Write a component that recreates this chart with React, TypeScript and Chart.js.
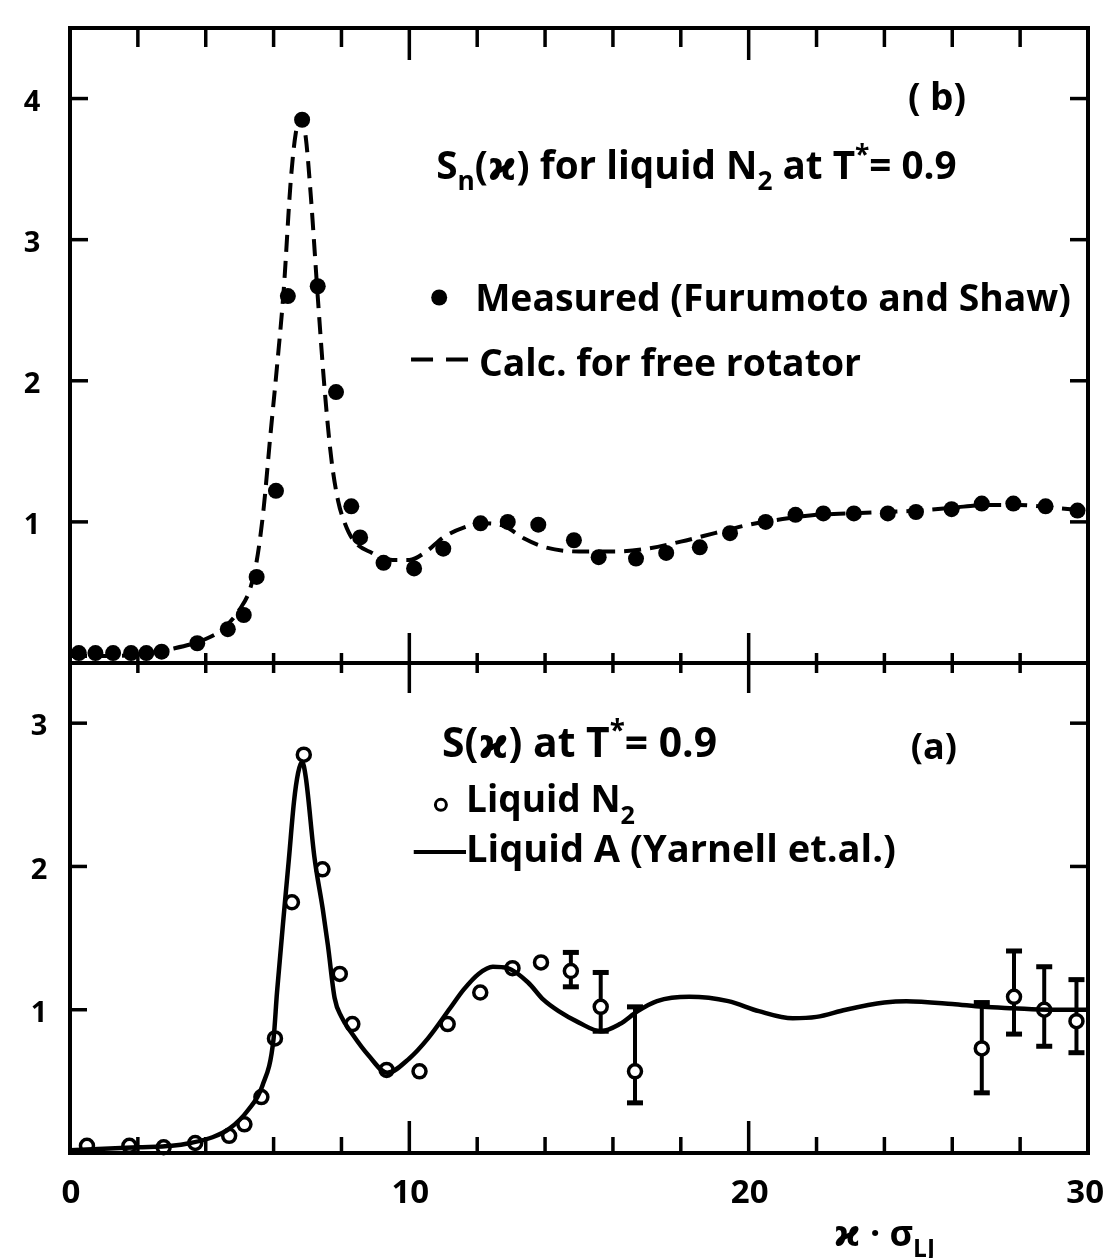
import React, { useEffect, useRef } from "react";
import { Chart, registerables } from "chart.js";

Chart.register(...registerables);

// ---------- DATA ----------
// Panel (b): S_n(x) for liquid N2, calc. for free rotator (dashed curve)
const calcX = [0, 1, 2, 3, 4, 4.5, 5, 5.3, 5.5, 5.7, 5.9, 6.1, 6.3, 6.5, 6.65, 6.82, 6.95, 7.1, 7.3, 7.5, 7.7, 7.9, 8.1, 8.35, 8.9, 9.5, 10.0, 10.5, 11.0, 11.6, 12.2, 12.8, 13.4, 14.0, 15.0, 16.0, 17.0, 18.0, 19.0, 20.0, 21.0, 22.0, 23.0, 24.0, 25.0, 26.0, 27.0, 28.0, 29.0, 30.0];
const calcY = [0.05, 0.05, 0.06, 0.1, 0.17, 0.24, 0.38, 0.52, 0.72, 1.08, 1.6, 2.1, 2.65, 3.4, 3.75, 3.87, 3.72, 3.3, 2.6, 1.95, 1.45, 1.15, 0.99, 0.87, 0.78, 0.73, 0.73, 0.79, 0.89, 0.96, 0.99, 0.97, 0.88, 0.82, 0.79, 0.79, 0.81, 0.86, 0.92, 0.98, 1.02, 1.05, 1.06, 1.07, 1.08, 1.1, 1.12, 1.12, 1.1, 1.08];

// Panel (b): measured (Furumoto and Shaw)
const measX = [0.26, 0.75, 1.27, 1.8, 2.25, 2.7, 3.75, 4.65, 5.12, 5.5, 6.07, 6.42, 6.84, 7.3, 7.84, 8.29, 8.55, 9.24, 10.14, 11.0, 12.1, 12.9, 13.8, 14.85, 15.58, 16.68, 17.57, 18.56, 19.45, 20.5, 21.38, 22.2, 23.1, 24.1, 24.93, 25.98, 26.87, 27.8, 28.75, 29.69];
const measY = [0.07, 0.07, 0.07, 0.07, 0.07, 0.08, 0.14, 0.24, 0.34, 0.61, 1.22, 2.6, 3.85, 2.67, 1.92, 1.11, 0.89, 0.71, 0.67, 0.81, 0.99, 1.0, 0.98, 0.87, 0.75, 0.74, 0.78, 0.82, 0.92, 1.0, 1.05, 1.06, 1.06, 1.06, 1.07, 1.09, 1.13, 1.13, 1.11, 1.08];

// Panel (a): Liquid A (Yarnell et al.) solid curve
const argonX = [0, 1, 2, 3, 3.55, 4.2, 4.7, 5.25, 5.67, 6.0, 6.1, 6.33, 6.45, 6.6, 6.72, 6.84, 6.95, 7.2, 7.45, 7.6, 7.8, 8.0, 8.32, 8.8, 9.35, 10.0, 10.55, 11.2, 11.6, 12.04, 12.46, 12.9, 13.5, 13.95, 14.4, 15.0, 15.64, 16.2, 16.73, 17.3, 18.25, 19.4, 20.3, 21.3, 22.0, 22.86, 24.0, 24.65, 26.0, 26.9, 27.8, 28.85, 30.0];
const argonY = [0.02, 0.03, 0.04, 0.05, 0.07, 0.11, 0.17, 0.3, 0.47, 0.8, 1.12, 1.74, 2.05, 2.45, 2.65, 2.73, 2.62, 2.07, 1.7, 1.45, 1.08, 0.95, 0.83, 0.68, 0.56, 0.66, 0.8, 1.01, 1.14, 1.25, 1.3, 1.29, 1.19, 1.07, 0.99, 0.91, 0.85, 0.9, 0.99, 1.06, 1.09, 1.06, 0.99, 0.94, 0.95, 1.0, 1.05, 1.06, 1.04, 1.02, 1.01, 1.0, 1.0];

// Panel (a): Liquid N2 (open circles) with error bars where present
const n2X = [0.5, 1.75, 2.76, 3.69, 4.69, 5.14, 5.64, 6.04, 6.54, 6.89, 7.44, 7.95, 8.32, 9.33, 10.3, 11.13, 12.09, 13.04, 13.88, 14.76, 15.64, 16.65, 26.87, 27.82, 28.71, 29.66];
const n2Y = [0.05, 0.05, 0.04, 0.07, 0.12, 0.2, 0.39, 0.8, 1.75, 2.78, 1.98, 1.25, 0.9, 0.58, 0.57, 0.9, 1.12, 1.29, 1.33, 1.27, 1.02, 0.57, 0.73, 1.09, 1.0, 0.92];
const n2ErrLow: (number | null)[] = [null, null, null, null, null, null, null, null, null, null, null, null, null, null, null, null, null, null, null, 1.16, 0.85, 0.35, 0.42, 0.83, 0.745, 0.7];
const n2ErrHigh: (number | null)[] = [null, null, null, null, null, null, null, null, null, null, null, null, null, null, null, null, null, null, null, 1.4, 1.26, 1.02, 1.05, 1.41, 1.3, 1.21];

// Axis ticks and labels
const xMin = 0;
const xMax = 30;
const xTickValues = [2, 4, 6, 8, 10, 12, 14, 16, 18, 20, 22, 24, 26, 28];
const xMajorTicks = [10, 20];
const xLabelValues = [0, 10, 20, 30];
const xLabels = ["0", "10", "20", "30"];
const topYMax = 4.5;
const topYTicks = [1, 2, 3, 4];
const bottomYMax = 3.42;
const bottomYTicks = [1, 2, 3];

const FONT = '"Open Sans", "DejaVu Sans", sans-serif';

type Seg = { t: string; sub?: boolean; sup?: boolean };

function segSize(s: Seg, size: number) {
  return s.sub || s.sup ? size * 0.68 : size;
}

function richWidth(ctx: CanvasRenderingContext2D, segs: Seg[], size: number) {
  let w = 0;
  for (const s of segs) {
    ctx.font = `bold ${segSize(s, size)}px ${FONT}`;
    w += ctx.measureText(s.t).width;
  }
  return w;
}

function drawRich(ctx: CanvasRenderingContext2D, segs: Seg[], x: number, yCenter: number, size: number, align: "left" | "center" = "left") {
  const total = richWidth(ctx, segs, size);
  let cx = align === "center" ? x - total / 2 : x;
  const base = yCenter + size * 0.36;
  ctx.textAlign = "left";
  ctx.textBaseline = "alphabetic";
  for (const s of segs) {
    const sz = segSize(s, size);
    ctx.font = `bold ${sz}px ${FONT}`;
    const dy = s.sub ? size * 0.3 : s.sup ? -size * 0.42 : 0;
    ctx.fillText(s.t, cx, base + dy);
    cx += ctx.measureText(s.t).width;
  }
}

function fitRich(ctx: CanvasRenderingContext2D, segs: Seg[], x0: number, x1: number, yCenter: number) {
  const w100 = richWidth(ctx, segs, 100);
  const size = (100 * (x1 - x0)) / w100;
  drawRich(ctx, segs, x0, yCenter, size, "left");
}

const framePlugin = {
  id: "framePlugin",
  beforeDatasetsDraw(chart: any) {
    const ctx: CanvasRenderingContext2D = chart.ctx;
    const xs = chart.scales.x;
    const ya = chart.scales.yA;
    ctx.save();
    ctx.strokeStyle = "#000";
    ctx.fillStyle = "#000";
    ctx.lineWidth = 4;
    n2X.forEach((xv, i) => {
      const lo = n2ErrLow[i];
      const hi = n2ErrHigh[i];
      if (lo == null || hi == null) return;
      const px = xs.getPixelForValue(xv);
      const pt = ya.getPixelForValue(hi);
      const pb = ya.getPixelForValue(lo);
      ctx.beginPath();
      ctx.moveTo(px, pt);
      ctx.lineTo(px, pb);
      ctx.stroke();
      ctx.fillRect(px - 8, pt - 2.5, 16, 5);
      ctx.fillRect(px - 8, pb - 2.5, 16, 5);
    });
    ctx.restore();
  },
  afterDatasetsDraw(chart: any) {
    const ctx: CanvasRenderingContext2D = chart.ctx;
    const xs = chart.scales.x;
    const ya = chart.scales.yA;
    const yb = chart.scales.yB;
    const { left: L, right: R, top: T, bottom: B } = chart.chartArea;
    const mid = yb.getPixelForValue(0);
    const line = (x1: number, y1: number, x2: number, y2: number) => {
      ctx.beginPath();
      ctx.moveTo(x1, y1);
      ctx.lineTo(x2, y2);
      ctx.stroke();
    };
    ctx.save();
    ctx.strokeStyle = "#000";
    ctx.fillStyle = "#000";
    ctx.lineWidth = 4;
    ctx.lineCap = "butt";
    ctx.strokeRect(L, T, R - L, B - T);
    line(L, mid, R, mid);

    ctx.lineWidth = 3.5;
    for (const v of xTickValues) {
      const px = xs.getPixelForValue(v);
      const major = xMajorTicks.includes(v);
      line(px, T, px, T + (major ? 32 : 19));
      line(px, mid - (major ? 30 : 10), px, mid + (major ? 30 : 10));
      line(px, B, px, B - (major ? 32 : 16));
    }
    for (const v of topYTicks) {
      const py = yb.getPixelForValue(v);
      line(L, py, L + 18, py);
      line(R, py, R - 18, py);
    }
    for (const v of bottomYTicks) {
      const py = ya.getPixelForValue(v);
      line(L, py, L + 17, py);
      line(R, py, R - 18, py);
    }

    // tick labels
    ctx.textAlign = "center";
    ctx.textBaseline = "middle";
    ctx.font = `bold 29px ${FONT}`;
    for (const v of topYTicks) {
      ctx.fillText(String(v), L - 38, yb.getPixelForValue(v) + 4);
    }
    for (const v of bottomYTicks) {
      ctx.fillText(String(v), L - 31, ya.getPixelForValue(v) + 4);
    }
    ctx.font = `bold 33px ${FONT}`;
    xLabelValues.forEach((v, i) => {
      const w = ctx.measureText(xLabels[i]).width;
      let cx = xs.getPixelForValue(v) + 1;
      cx = Math.min(cx, chart.width - 3 - w / 2);
      ctx.fillText(xLabels[i], cx, B + 41);
    });

    // axis title
    const ax = xs.getPixelForValue(24.0);
    drawRich(ctx, [{ t: "ϰ · σ" }, { t: "LJ", sub: true }], ax, B + 80, 36, "center");

    // panel (b) annotations
    const X = (v: number) => xs.getPixelForValue(v);
    drawRich(ctx, [{ t: "( b)" }], X(25.55), yb.getPixelForValue(4.01), 37, "center");
    fitRich(ctx, [{ t: "S" }, { t: "n", sub: true }, { t: "(ϰ) for liquid N" }, { t: "2", sub: true }, { t: " at T" }, { t: "*", sup: true }, { t: "= 0.9" }], X(10.79), X(26.14), yb.getPixelForValue(3.53));
    ctx.beginPath();
    ctx.arc(X(10.88), yb.getPixelForValue(2.59), 8, 0, Math.PI * 2);
    ctx.fill();
    fitRich(ctx, [{ t: "Measured (Furumoto and Shaw)" }], X(11.94), X(29.5), yb.getPixelForValue(2.59));
    ctx.save();
    ctx.lineWidth = 4;
    ctx.setLineDash([22, 13]);
    line(X(10.05), yb.getPixelForValue(2.15), X(11.73), yb.getPixelForValue(2.15));
    ctx.restore();
    fitRich(ctx, [{ t: "Calc. for free rotator" }], X(12.05), X(23.31), yb.getPixelForValue(2.13));

    // panel (a) annotations
    fitRich(ctx, [{ t: "S(ϰ) at T" }, { t: "*", sup: true }, { t: "= 0.9" }], X(10.96), X(19.07), ya.getPixelForValue(2.865));
    drawRich(ctx, [{ t: "(a)" }], X(25.46), ya.getPixelForValue(2.84), 36, "center");
    ctx.save();
    ctx.fillStyle = "#fff";
    ctx.lineWidth = 3;
    ctx.beginPath();
    ctx.arc(X(10.93), ya.getPixelForValue(2.43), 5.5, 0, Math.PI * 2);
    ctx.fill();
    ctx.stroke();
    ctx.restore();
    fitRich(ctx, [{ t: "Liquid N" }, { t: "2", sub: true }], X(11.67), X(16.65), ya.getPixelForValue(2.47));
    ctx.lineWidth = 4;
    line(X(10.13), ya.getPixelForValue(2.1), X(11.67), ya.getPixelForValue(2.1));
    fitRich(ctx, [{ t: "Liquid A (Yarnell et.al.)" }], X(11.67), X(24.34), ya.getPixelForValue(2.125));
    ctx.restore();
  },
};

export default function App() {
  const ref = useRef<HTMLCanvasElement>(null);
  useEffect(() => {
    const canvas = ref.current;
    if (!canvas) return;
    const chart = new Chart(canvas, {
      type: "line",
      data: {
        datasets: [
          {
            label: "Calc. for free rotator",
            data: calcX.map((x, i) => ({ x, y: calcY[i] })),
            yAxisID: "yB",
            borderColor: "#000",
            borderWidth: 4,
            borderDash: [17, 9],
            pointRadius: 0,
            cubicInterpolationMode: "monotone",
            fill: false,
          },
          {
            label: "Measured (Furumoto and Shaw)",
            data: measX.map((x, i) => ({ x, y: measY[i] })),
            yAxisID: "yB",
            showLine: false,
            pointRadius: 8,
            pointBackgroundColor: "#000",
            pointBorderColor: "#000",
            pointBorderWidth: 0,
            clip: false,
          },
          {
            label: "Liquid A (Yarnell et.al.)",
            data: argonX.map((x, i) => ({ x, y: argonY[i] })),
            yAxisID: "yA",
            borderColor: "#000",
            borderWidth: 4.5,
            pointRadius: 0,
            cubicInterpolationMode: "monotone",
            fill: false,
          },
          {
            label: "Liquid N2",
            data: n2X.map((x, i) => ({ x, y: n2Y[i] })),
            yAxisID: "yA",
            showLine: false,
            pointRadius: 6.5,
            pointBackgroundColor: "#fff",
            pointBorderColor: "#000",
            pointBorderWidth: 3.5,
            clip: false,
          },
        ] as any,
      },
      options: {
        animation: false,
        responsive: false,
        devicePixelRatio: 1,
        layout: { padding: { left: 70, right: 19, top: 28, bottom: 105 } },
        plugins: { legend: { display: false }, tooltip: { enabled: false }, title: { display: false } },
        scales: {
          x: { type: "linear", min: xMin, max: xMax, display: false },
          yA: { type: "linear", position: "left", min: 0, max: bottomYMax, display: false, stack: "panels", stackWeight: 490 } as any,
          yB: { type: "linear", position: "left", min: 0, max: topYMax, display: false, stack: "panels", stackWeight: 635 } as any,
        },
      },
      plugins: [framePlugin],
    });
    return () => chart.destroy();
  }, []);
  return (
    <div style={{ position: "absolute", left: 0, top: 0, width: 1107, height: 1258, background: "#fff" }}>
      <canvas ref={ref} width={1107} height={1258} style={{ display: "block" }} />
    </div>
  );
}
